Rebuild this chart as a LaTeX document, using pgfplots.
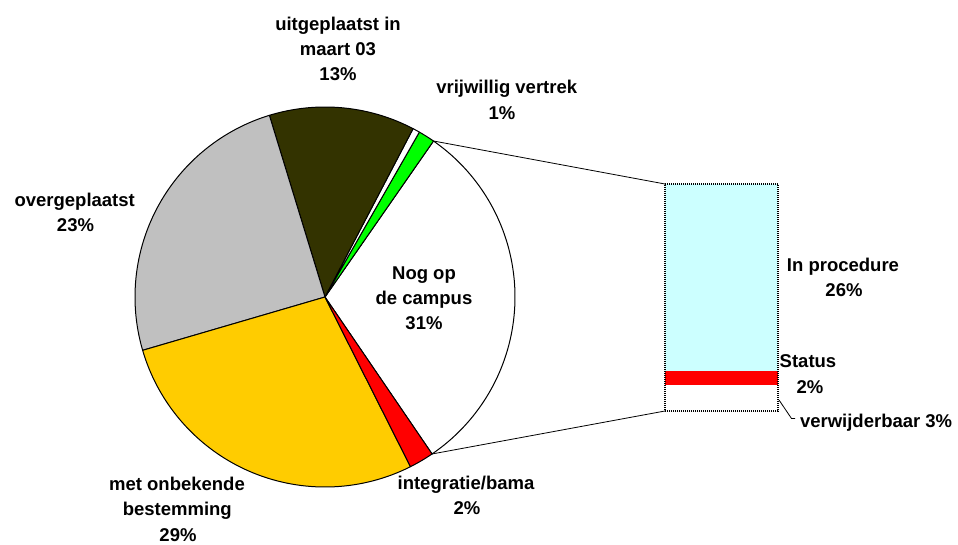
\documentclass[border=0pt]{standalone}
\usepackage{fontspec}
\setmainfont{Liberation Sans}
\usepackage{pgfplots}
\pgfplotsset{compat=1.18}
\definecolor{sliceGreen}{RGB}{0,255,0}
\definecolor{sliceDark}{RGB}{51,51,0}
\definecolor{sliceGrey}{RGB}{192,192,192}
\definecolor{sliceYellow}{RGB}{255,204,0}
\definecolor{sliceRed}{RGB}{255,0,0}
\definecolor{barCyan}{RGB}{204,255,255}
\newcommand\lbl{\bfseries\fontsize{18.5bp}{25bp}\selectfont}
% pie: start angle -55.7 deg, counter-clockwise; #1 = cumulative percent before slice, #2 = percent
\newcommand{\slice}[3]{%
  \pgfmathsetmacro{\sa}{-55.7+3.6*#1}%
  \pgfmathsetmacro{\sb}{-55.7+3.6*(#1+#2)}%
  \addplot[fill=#3, draw=black, line width=1bp, line join=round, domain=\sa:\sb, samples=120, variable=\t]
    ({325+190*cos(\t)}, {297-190*sin(\t)}) -- (325,297) -- cycle;
}
\begin{document}
\begin{tikzpicture}
\begin{axis}[
  x=1bp, y=1bp,
  xmin=0, xmax=958, ymin=0, ymax=545,
  y dir=reverse,
  hide axis,
  clip=false,
]
\addplot[draw=none] coordinates {(0,0) (958,545)};
% pie slices (percent of whole)
\slice{0}{30.8}{white}        % Nog op de campus
\slice{30.8}{1.4}{sliceGreen} % vrijwillig vertrek
\slice{32.2}{0.6}{white}      % (unlabelled)
\slice{32.8}{12.4}{sliceDark} % uitgeplaatst in maart 03
\slice{45.2}{24.8}{sliceGrey} % overgeplaatst
\slice{70.0}{27.9}{sliceYellow} % met onbekende bestemming
\slice{97.9}{2.1}{sliceRed}   % integratie/bama
% connector lines
\addplot[black, line width=0.8bp] coordinates {(433.5,141) (665,184)};
\addplot[black, line width=0.8bp] coordinates {(431.9,454) (665,411)};
% bar of pie: In procedure 25.5, Status 1.9, verwijderbaar 3.6 (7.3226 px per percent)
\addplot[fill=barCyan, draw=none] coordinates {(665,184) (778,184) (778,370.7) (665,370.7)} -- cycle;
\addplot[fill=sliceRed, draw=none] coordinates {(665,370.7) (778,370.7) (778,384.6) (665,384.6)} -- cycle;
\addplot[fill=white, draw=none] coordinates {(665,384.6) (778,384.6) (778,411) (665,411)} -- cycle;
\addplot[draw=black, line width=1.2bp, dash pattern=on 1bp off 1bp] coordinates {(665,184) (778,184) (778,411) (665,411)} -- cycle;
% leader line
\addplot[black, line width=0.8bp] coordinates {(779,400) (791.5,418.5) (795,418.5)};
% labels
\node[anchor=base, font=\lbl] at (338,31) {uitgeplaatst in};
\node[anchor=base, font=\lbl] at (338,56) {maart 03};
\node[anchor=base, font=\lbl] at (338,81) {13\%};
\node[anchor=base, font=\lbl] at (506.7,94) {vrijwillig vertrek};
\node[anchor=base, font=\lbl] at (502,120) {1\%};
\node[anchor=base, font=\lbl] at (74.7,207) {overgeplaatst};
\node[anchor=base, font=\lbl] at (75.5,232) {23\%};
\node[anchor=base, font=\lbl] at (424,280) {Nog op};
\node[anchor=base, font=\lbl] at (424,305) {de campus};
\node[anchor=base, font=\lbl] at (424,330) {31\%};
\node[anchor=base, font=\lbl] at (843,271.7) {In procedure};
\node[anchor=base, font=\lbl] at (844,296.7) {26\%};
\node[anchor=base, font=\lbl] at (808,368) {Status};
\node[anchor=base, font=\lbl] at (810,393) {2\%};
\node[anchor=base west, font=\lbl] at (796.5,427) {verwijderbaar 3\%};
\node[anchor=base, font=\lbl] at (466,489.3) {integratie/bama};
\node[anchor=base, font=\lbl] at (467,514) {2\%};
\node[anchor=base, font=\lbl] at (177,490) {met onbekende};
\node[anchor=base, font=\lbl] at (177.3,515) {bestemming};
\node[anchor=base, font=\lbl] at (178,541) {29\%};
\end{axis}
\end{tikzpicture}
\end{document}
